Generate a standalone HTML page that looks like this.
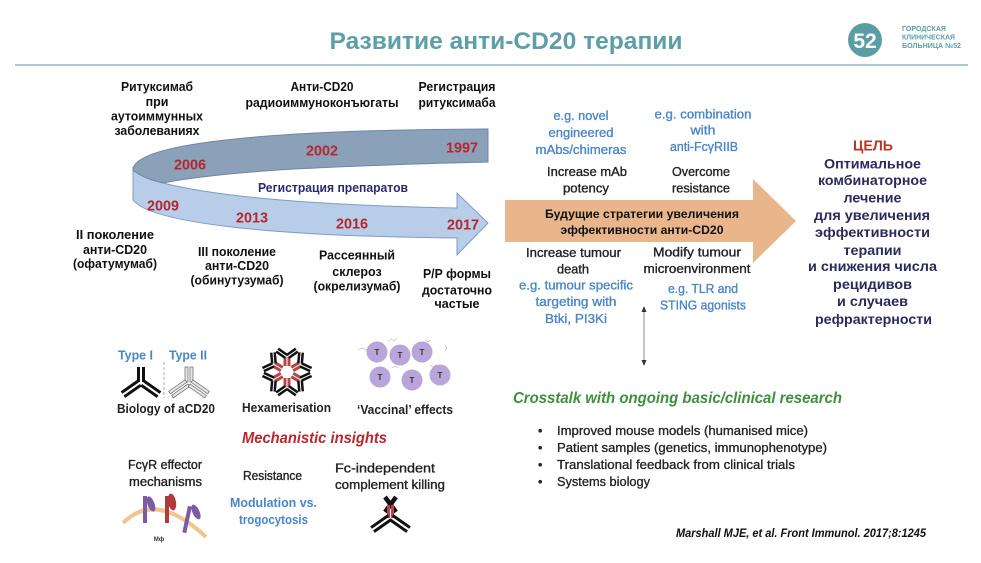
<!DOCTYPE html>
<html><head><meta charset="utf-8">
<style>
html,body{margin:0;padding:0;background:#fff;width:981px;height:563px;overflow:hidden}
svg{display:block}
text{font-family:"Liberation Sans", sans-serif}
</style></head>
<body>
<svg width="981" height="563" viewBox="0 0 981 563" xmlns="http://www.w3.org/2000/svg">
<rect width="981" height="563" fill="#fff"/>

<!-- Header -->
<text x="506" y="49" font-size="24" font-weight="bold" fill="#5e9ea7" text-anchor="middle" textLength="353" lengthAdjust="spacingAndGlyphs">Развитие анти-CD20 терапии</text>
<line x1="15" y1="65" x2="968" y2="65" stroke="#a3cbd0" stroke-width="2"/>
<circle cx="865" cy="40" r="17" fill="#5a9da5"/>
<text x="865" y="48" font-size="21" font-weight="bold" fill="#fff" text-anchor="middle">52</text>
<g font-size="7.5" font-weight="bold" fill="#5e9ea7">
<text x="902" y="31" textLength="44" lengthAdjust="spacingAndGlyphs">ГОРОДСКАЯ</text>
<text x="902" y="39.5" textLength="53" lengthAdjust="spacingAndGlyphs">КЛИНИЧЕСКАЯ</text>
<text x="902" y="48" textLength="59" lengthAdjust="spacingAndGlyphs">БОЛЬНИЦА №52</text>
</g>

<!-- Timeline ribbon -->
<path d="M133,170 L133,200 C150,222 260,236 457,238 L457,255 L488,223 L457,193 L457,208 C350,206 230,200 163,183 C150,179 140,174 133,168 Z" fill="#b8cde8" stroke="#7f9cc4" stroke-width="1"/>
<path d="M133,170 C133,145 250,130 488,129 L488,162 C380,165 240,168 163,183 C150,180 140,176 133,170 Z" fill="#8ba0b9" stroke="#6f86a3" stroke-width="1"/>

<g font-size="14.5" font-weight="bold" fill="#b5272d" text-anchor="middle">
<text x="190" y="169.5" textLength="32" lengthAdjust="spacingAndGlyphs">2006</text>
<text x="322" y="155.5" textLength="32" lengthAdjust="spacingAndGlyphs">2002</text>
<text x="462" y="152.5" textLength="32" lengthAdjust="spacingAndGlyphs">1997</text>
<text x="163" y="210.5" textLength="32" lengthAdjust="spacingAndGlyphs">2009</text>
<text x="252" y="222.5" textLength="32" lengthAdjust="spacingAndGlyphs">2013</text>
<text x="352" y="228.5" textLength="32" lengthAdjust="spacingAndGlyphs">2016</text>
<text x="463" y="229.5" textLength="32" lengthAdjust="spacingAndGlyphs">2017</text>
</g>

<text x="333" y="192" font-size="12.5" font-weight="bold" fill="#2d2b6b" text-anchor="middle" textLength="150" lengthAdjust="spacingAndGlyphs">Регистрация препаратов</text>

<g font-size="12.5" font-weight="bold" fill="#111" text-anchor="middle">
<text x="157" y="91" textLength="72" lengthAdjust="spacingAndGlyphs">Ритуксимаб</text>
<text x="157" y="106">при</text>
<text x="157" y="120.5" textLength="92" lengthAdjust="spacingAndGlyphs">аутоиммунных</text>
<text x="157" y="135" textLength="85" lengthAdjust="spacingAndGlyphs">заболеваниях</text>

<text x="322" y="91" textLength="63" lengthAdjust="spacingAndGlyphs">Анти-CD20</text>
<text x="322" y="107" textLength="153" lengthAdjust="spacingAndGlyphs">радиоиммуноконъюгаты</text>

<text x="457" y="91" textLength="77" lengthAdjust="spacingAndGlyphs">Регистрация</text>
<text x="457" y="107" textLength="77" lengthAdjust="spacingAndGlyphs">ритуксимаба</text>

<text x="115" y="239" textLength="78" lengthAdjust="spacingAndGlyphs">II поколение</text>
<text x="115" y="254" textLength="64" lengthAdjust="spacingAndGlyphs">анти-CD20</text>
<text x="115" y="268" textLength="84" lengthAdjust="spacingAndGlyphs">(офатумумаб)</text>

<text x="237" y="256" textLength="78" lengthAdjust="spacingAndGlyphs">III поколение</text>
<text x="237" y="270" textLength="64" lengthAdjust="spacingAndGlyphs">анти-CD20</text>
<text x="237" y="284.5" textLength="93" lengthAdjust="spacingAndGlyphs">(обинутузумаб)</text>

<text x="357" y="259.5" textLength="76" lengthAdjust="spacingAndGlyphs">Рассеянный</text>
<text x="357" y="276">склероз</text>
<text x="357" y="290.5" textLength="87" lengthAdjust="spacingAndGlyphs">(окрелизумаб)</text>

<text x="457" y="278" textLength="68" lengthAdjust="spacingAndGlyphs">Р/Р формы</text>
<text x="457" y="294.5" textLength="70" lengthAdjust="spacingAndGlyphs">достаточно</text>
<text x="457" y="308">частые</text>
</g>

<!-- Orange arrow -->
<polygon points="505,200 753,200 753,179 796,221 753,263 753,242 505,242" fill="#e8b68a"/>
<g font-size="12" font-weight="bold" fill="#111" text-anchor="middle">
<text x="642" y="218" textLength="194" lengthAdjust="spacingAndGlyphs">Будущие стратегии увеличения</text>
<text x="642" y="234" textLength="163" lengthAdjust="spacingAndGlyphs">эффективности анти-CD20</text>
</g>

<g font-size="13" fill="#4a86c6" stroke="#4a86c6" stroke-width="0.35" text-anchor="middle">
<text x="581" y="120" textLength="55" lengthAdjust="spacingAndGlyphs">e.g. novel</text>
<text x="581" y="137" textLength="65" lengthAdjust="spacingAndGlyphs">engineered</text>
<text x="581" y="154" textLength="91" lengthAdjust="spacingAndGlyphs">mAbs/chimeras</text>
<text x="703" y="118.5" textLength="97" lengthAdjust="spacingAndGlyphs">e.g. combination</text>
<text x="703" y="134.5" textLength="25" lengthAdjust="spacingAndGlyphs">with</text>
<text x="704" y="151" textLength="68" lengthAdjust="spacingAndGlyphs">anti-FcγRIIB</text>
<text x="576" y="289.5" textLength="114" lengthAdjust="spacingAndGlyphs">e.g. tumour specific</text>
<text x="576" y="306" textLength="81" lengthAdjust="spacingAndGlyphs">targeting with</text>
<text x="576" y="323" textLength="62" lengthAdjust="spacingAndGlyphs">Btki,  PI3Ki</text>
<text x="703" y="293" textLength="70" lengthAdjust="spacingAndGlyphs">e.g. TLR and</text>
<text x="703" y="309.5" textLength="86" lengthAdjust="spacingAndGlyphs">STING agonists</text>
</g>
<g font-size="13" fill="#222" stroke="#222" stroke-width="0.35" text-anchor="middle">
<text x="587" y="176" textLength="80" lengthAdjust="spacingAndGlyphs">Increase mAb</text>
<text x="586" y="192.5" textLength="46" lengthAdjust="spacingAndGlyphs">potency</text>
<text x="701" y="176" textLength="58" lengthAdjust="spacingAndGlyphs">Overcome</text>
<text x="701" y="192.5" textLength="58" lengthAdjust="spacingAndGlyphs">resistance</text>
<text x="573.5" y="257" textLength="95" lengthAdjust="spacingAndGlyphs">Increase tumour</text>
<text x="573" y="273.5" textLength="32" lengthAdjust="spacingAndGlyphs">death</text>
<text x="697" y="256.5" textLength="88" lengthAdjust="spacingAndGlyphs">Modify tumour</text>
<text x="697" y="273" textLength="107" lengthAdjust="spacingAndGlyphs">microenvironment</text>
</g>

<!-- Goal -->
<text x="873" y="150.5" font-size="15" font-weight="bold" fill="#b5372a" text-anchor="middle" textLength="40" lengthAdjust="spacingAndGlyphs">ЦЕЛЬ</text>
<g font-size="14" font-weight="bold" fill="#2a2a5c" text-anchor="middle">
<text x="872.5" y="168.5" textLength="97" lengthAdjust="spacingAndGlyphs">Оптимальное</text>
<text x="872.5" y="185" textLength="109" lengthAdjust="spacingAndGlyphs">комбинаторное</text>
<text x="872.5" y="202.5" textLength="58" lengthAdjust="spacingAndGlyphs">лечение</text>
<text x="872" y="220" textLength="116" lengthAdjust="spacingAndGlyphs">для увеличения</text>
<text x="872.5" y="237" textLength="115" lengthAdjust="spacingAndGlyphs">эффективности</text>
<text x="872.5" y="255" textLength="58" lengthAdjust="spacingAndGlyphs">терапии</text>
<text x="872.5" y="271" textLength="129" lengthAdjust="spacingAndGlyphs">и снижения числа</text>
<text x="872.5" y="289" textLength="79" lengthAdjust="spacingAndGlyphs">рецидивов</text>
<text x="872.5" y="306" textLength="71" lengthAdjust="spacingAndGlyphs">и случаев</text>
<text x="873.5" y="324" textLength="117" lengthAdjust="spacingAndGlyphs">рефрактерности</text>
</g>

<!-- Double arrow -->
<line x1="644" y1="310" x2="644" y2="362" stroke="#888" stroke-width="1"/>
<polygon points="644,306 641.5,312 646.5,312" fill="#333"/>
<polygon points="644,366 641.5,360 646.5,360" fill="#333"/>

<!-- Crosstalk -->
<text x="513" y="403" font-size="16" font-weight="bold" font-style="italic" fill="#3f8f3f" textLength="329" lengthAdjust="spacingAndGlyphs">Crosstalk with ongoing basic/clinical research</text>
<g font-size="12.5" fill="#222" stroke="#222" stroke-width="0.3">
<text x="538" y="435">•</text>
<text x="538" y="452">•</text>
<text x="538" y="469">•</text>
<text x="538" y="486">•</text>
<text x="557" y="435" textLength="251" lengthAdjust="spacingAndGlyphs">Improved mouse models (humanised mice)</text>
<text x="557" y="452" textLength="270" lengthAdjust="spacingAndGlyphs">Patient samples (genetics, immunophenotype)</text>
<text x="557" y="469" textLength="238" lengthAdjust="spacingAndGlyphs">Translational feedback from clinical trials</text>
<text x="557" y="486" textLength="93" lengthAdjust="spacingAndGlyphs">Systems biology</text>
</g>
<text x="676" y="537" font-size="11.5" font-weight="bold" font-style="italic" fill="#111" textLength="250" lengthAdjust="spacingAndGlyphs">Marshall MJE, et al. Front Immunol. 2017;8:1245</text>

<!-- Mechanistic section -->
<g font-size="13" font-weight="bold" fill="#4a86c6">
<text x="118" y="359.5" textLength="35" lengthAdjust="spacingAndGlyphs">Type I</text>
<text x="169" y="359.5" textLength="38" lengthAdjust="spacingAndGlyphs">Type II</text>
</g>
<line x1="164" y1="362" x2="164" y2="398" stroke="#aaa" stroke-width="1" stroke-dasharray="3,2"/>

<!-- Type I antibody -->
<g transform="translate(141,382)" fill="#111">
<rect x="-4" y="-15" width="3" height="15"/><rect x="1" y="-15" width="3" height="15"/>
<g transform="rotate(55)"><rect x="-4" y="2" width="3" height="20"/><rect x="1" y="2" width="3" height="20"/></g>
<g transform="rotate(-55)"><rect x="-4" y="2" width="3" height="20"/><rect x="1" y="2" width="3" height="20"/></g>
</g>
<!-- Type II antibody -->
<g transform="translate(189,382)" fill="#e6e6e6" stroke="#666" stroke-width="0.7">
<rect x="-4" y="-15" width="3" height="15"/><rect x="1" y="-15" width="3" height="15"/>
<g transform="rotate(55)"><rect x="-4" y="2" width="3" height="20"/><rect x="1" y="2" width="3" height="20"/></g>
<g transform="rotate(-55)"><rect x="-4" y="2" width="3" height="20"/><rect x="1" y="2" width="3" height="20"/></g>
</g>

<!-- Hexamer -->
<g transform="translate(287,372)">
<g transform="rotate(0)"><rect x="-3.5" y="-15" width="3" height="9" fill="#b5474a"/><rect x="0.5" y="-15" width="3" height="9" fill="#b5474a"/><g transform="translate(0,-15)" fill="#111"><g transform="rotate(235)"><rect x="-3" y="1" width="2.5" height="11"/><rect x="0.5" y="1" width="2.5" height="11"/></g><g transform="rotate(125)"><rect x="-3" y="1" width="2.5" height="11"/><rect x="0.5" y="1" width="2.5" height="11"/></g></g></g>
<g transform="rotate(60)"><rect x="-3.5" y="-15" width="3" height="9" fill="#b5474a"/><rect x="0.5" y="-15" width="3" height="9" fill="#b5474a"/><g transform="translate(0,-15)" fill="#111"><g transform="rotate(235)"><rect x="-3" y="1" width="2.5" height="11"/><rect x="0.5" y="1" width="2.5" height="11"/></g><g transform="rotate(125)"><rect x="-3" y="1" width="2.5" height="11"/><rect x="0.5" y="1" width="2.5" height="11"/></g></g></g>
<g transform="rotate(120)"><rect x="-3.5" y="-15" width="3" height="9" fill="#b5474a"/><rect x="0.5" y="-15" width="3" height="9" fill="#b5474a"/><g transform="translate(0,-15)" fill="#111"><g transform="rotate(235)"><rect x="-3" y="1" width="2.5" height="11"/><rect x="0.5" y="1" width="2.5" height="11"/></g><g transform="rotate(125)"><rect x="-3" y="1" width="2.5" height="11"/><rect x="0.5" y="1" width="2.5" height="11"/></g></g></g>
<g transform="rotate(180)"><rect x="-3.5" y="-15" width="3" height="9" fill="#b5474a"/><rect x="0.5" y="-15" width="3" height="9" fill="#b5474a"/><g transform="translate(0,-15)" fill="#111"><g transform="rotate(235)"><rect x="-3" y="1" width="2.5" height="11"/><rect x="0.5" y="1" width="2.5" height="11"/></g><g transform="rotate(125)"><rect x="-3" y="1" width="2.5" height="11"/><rect x="0.5" y="1" width="2.5" height="11"/></g></g></g>
<g transform="rotate(240)"><rect x="-3.5" y="-15" width="3" height="9" fill="#b5474a"/><rect x="0.5" y="-15" width="3" height="9" fill="#b5474a"/><g transform="translate(0,-15)" fill="#111"><g transform="rotate(235)"><rect x="-3" y="1" width="2.5" height="11"/><rect x="0.5" y="1" width="2.5" height="11"/></g><g transform="rotate(125)"><rect x="-3" y="1" width="2.5" height="11"/><rect x="0.5" y="1" width="2.5" height="11"/></g></g></g>
<g transform="rotate(300)"><rect x="-3.5" y="-15" width="3" height="9" fill="#b5474a"/><rect x="0.5" y="-15" width="3" height="9" fill="#b5474a"/><g transform="translate(0,-15)" fill="#111"><g transform="rotate(235)"><rect x="-3" y="1" width="2.5" height="11"/><rect x="0.5" y="1" width="2.5" height="11"/></g><g transform="rotate(125)"><rect x="-3" y="1" width="2.5" height="11"/><rect x="0.5" y="1" width="2.5" height="11"/></g></g></g>
</g>

<!-- Vaccinal -->
<g stroke="#c8c8c8" stroke-width="0.8" fill="none">
<path d="M358,350 l4,-2 l4,2 l4,-2"/><path d="M388,342 l3,-3 l3,2 l3,-3"/><path d="M430,365 l3,2 l3,-2 l3,2"/><path d="M392,368 l3,-2 l3,2"/><path d="M445,345 l2,3 l-2,3"/><path d="M425,340 l3,2 l3,-2"/>
</g>
<g fill="#b9a5d9">
<circle cx="377" cy="352" r="10.5"/><circle cx="400" cy="355" r="10.5"/><circle cx="422" cy="352" r="10.5"/>
<circle cx="380" cy="377" r="10.5"/><circle cx="412" cy="380" r="10.5"/><circle cx="440" cy="375" r="10.5"/>
</g>
<g font-size="8" font-weight="bold" fill="#333" text-anchor="middle">
<text x="377" y="355">T</text><text x="400" y="358">T</text><text x="422" y="355">T</text>
<text x="380" y="380">T</text><text x="412" y="383">T</text><text x="440" y="378">T</text>
</g>

<g font-size="13" font-weight="bold" fill="#222">
<text x="117" y="413" textLength="98" lengthAdjust="spacingAndGlyphs">Biology of aCD20</text>
<text x="242" y="412" textLength="89" lengthAdjust="spacingAndGlyphs">Hexamerisation</text>
<text x="357" y="414" textLength="96" lengthAdjust="spacingAndGlyphs">‘Vaccinal’ effects</text>
</g>

<text x="242" y="443" font-size="16" font-weight="bold" font-style="italic" fill="#b8282e" textLength="145" lengthAdjust="spacingAndGlyphs">Mechanistic insights</text>

<g font-size="12.5" fill="#222" stroke="#222" stroke-width="0.35" text-anchor="middle">
<text x="165" y="469" textLength="74" lengthAdjust="spacingAndGlyphs">FcγR effector</text>
<text x="165.5" y="486" textLength="73" lengthAdjust="spacingAndGlyphs">mechanisms</text>
<text x="272.5" y="480" textLength="59" lengthAdjust="spacingAndGlyphs">Resistance</text>
<text x="385" y="472.5" textLength="100" lengthAdjust="spacingAndGlyphs">Fc-independent</text>
<text x="390" y="489" textLength="110" lengthAdjust="spacingAndGlyphs">complement killing</text>
</g>
<g font-size="13" font-weight="bold" fill="#4a86c6" text-anchor="middle">
<text x="273.5" y="507" textLength="87" lengthAdjust="spacingAndGlyphs">Modulation vs.</text>
<text x="273.5" y="524" textLength="69" lengthAdjust="spacingAndGlyphs">trogocytosis</text>
</g>

<!-- FcgR icon -->
<path d="M123,523 Q156,490 206,537" stroke="#f0c58e" stroke-width="4" fill="none"/>
<g fill="#7b5aa6">
<rect x="143" y="496" width="4" height="27"/>
<ellipse cx="151" cy="504" rx="3.5" ry="8" transform="rotate(-20 151 504)"/>
<rect x="185" y="506" width="4" height="27" transform="rotate(12 187 520)"/>
<ellipse cx="196" cy="512" rx="3.5" ry="8" transform="rotate(-25 196 512)"/>
</g>
<g fill="#b03a3a">
<rect x="165" y="496" width="4" height="27"/>
<ellipse cx="172" cy="502" rx="4" ry="8.5" transform="rotate(-10 172 502)"/>
</g>
<text x="159" y="541" font-size="6" font-weight="bold" fill="#333" text-anchor="middle">Mф</text>

<!-- Fc-independent icon -->
<g>
<line x1="385" y1="497" x2="396" y2="512" stroke="#111" stroke-width="4.5"/>
<line x1="396" y1="497" x2="385" y2="512" stroke="#111" stroke-width="4.5"/>
<rect x="387" y="505" width="3" height="13" fill="#b5474a"/>
<rect x="391" y="505" width="3" height="13" fill="#b5474a"/>
<g transform="translate(390.5,517)" fill="#111">
<g transform="rotate(55)"><rect x="-4" y="1" width="3" height="21"/><rect x="1" y="1" width="3" height="21"/></g>
<g transform="rotate(-55)"><rect x="-4" y="1" width="3" height="21"/><rect x="1" y="1" width="3" height="21"/></g>
</g>
</g>
</svg>
</body></html>
